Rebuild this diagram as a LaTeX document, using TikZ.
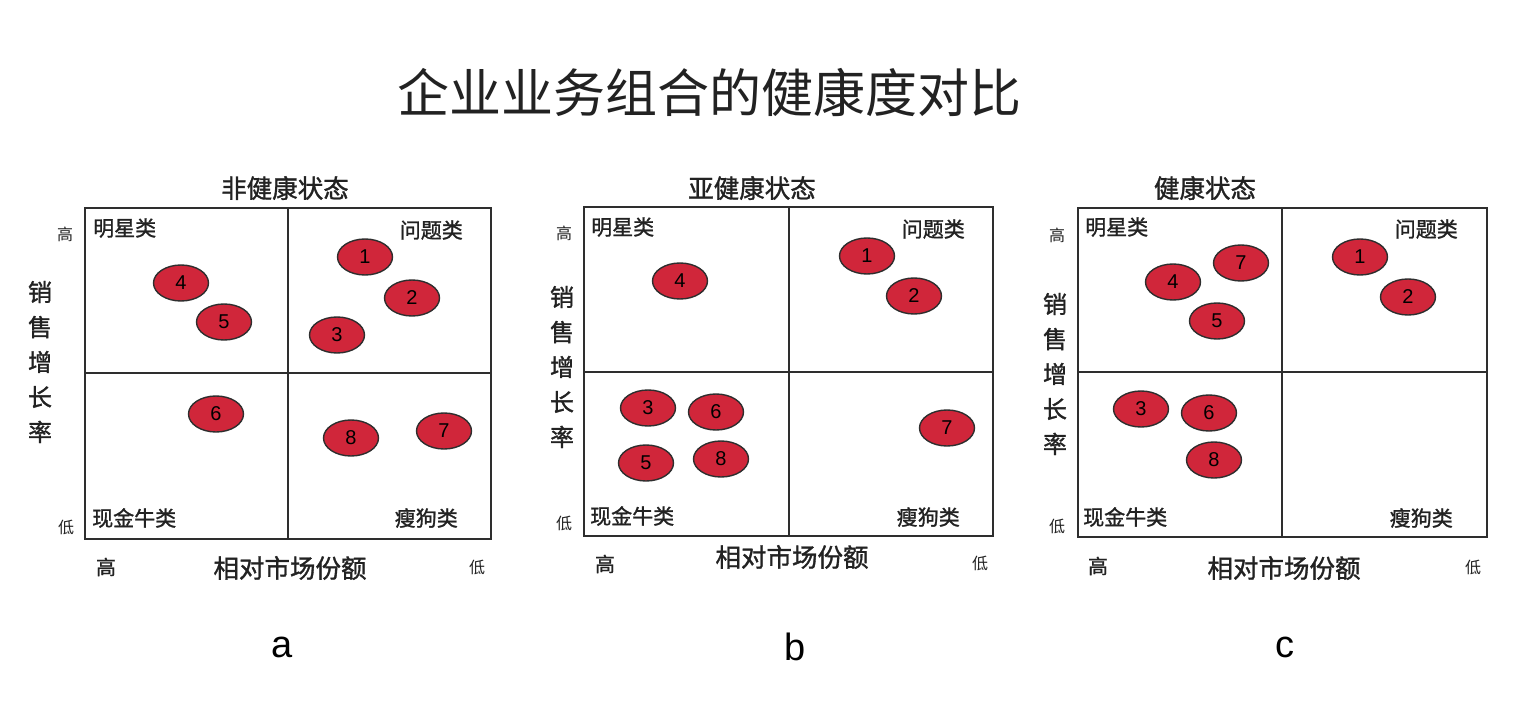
\documentclass[tikz,border=0pt]{standalone}
\usepackage{fontspec}
\setmainfont{Liberation Sans}
\newfontfamily\cjk{Noto Sans CJK SC}
\newfontfamily\cjkb[FakeBold=1.3]{Noto Sans CJK SC}
\usetikzlibrary{shapes.geometric}
\definecolor{bred}{HTML}{D0263A}
\definecolor{edgec}{HTML}{2E2E2E}
\definecolor{ink}{HTML}{222222}
\tikzset{
  frame/.style={draw=edgec, line width=1.8pt},
  blob/.style={ellipse, draw=edgec, line width=1.4pt, fill=bred, minimum width=55pt, minimum height=36pt, inner sep=0pt, text=black, font=\fontsize{20}{20}\selectfont},
  maintitle/.style={text=ink, font=\cjk\fontsize{52}{56}\selectfont},
  ptitle/.style={text=ink, font=\cjkb\fontsize{25.5}{28}\selectfont},
  qlab/.style={text=ink, font=\cjkb\fontsize{21}{24}\selectfont, inner sep=0pt},
  small/.style={text=ink, font=\cjk\fontsize{16}{18}\selectfont, inner sep=0pt},
  hsmall/.style={text=ink, font=\cjkb\fontsize{20}{22}\selectfont, inner sep=0pt},
  ylab/.style={text=ink, font=\cjkb\fontsize{24}{35}\selectfont, align=center, inner sep=0pt},
  xlab/.style={text=ink, font=\cjkb\fontsize{25.5}{28}\selectfont, inner sep=0pt},
  letter/.style={text=black, font=\fontsize{38}{40}\selectfont, inner sep=0pt}
}
\begin{document}
\begin{tikzpicture}[x=1pt,y=-1pt]
\useasboundingbox[fill=white] (0,0) rectangle (1524,714);
\node[maintitle] (title) at (709,92) {企业业务组合的健康度对比};

% ---------- panel a ----------
\draw[frame] (85,208) rectangle (491,539);
\draw[frame] (288,208) -- (288,539);
\draw[frame] (85,373) -- (491,373);
\node[ptitle] (ta) at (285,188) {非健康状态};
\node[qlab, anchor=west] (a-star) at (93,228) {明星类};
\node[qlab, anchor=east] (a-q) at (463,230) {问题类};
\node[qlab, anchor=west] (a-cow) at (92,518) {现金牛类};
\node[qlab, anchor=east] (a-dog) at (458,518) {瘦狗类};
\node[small] (a-yh) at (65,234) {高};
\node[small] (a-yl) at (66,527) {低};
\node[ylab] (a-y) at (40,362) {销\\售\\增\\长\\率};
\node[hsmall] (a-xh) at (106,567) {高};
\node[xlab] (a-x) at (290,568) {相对市场份额};
\node[small] (a-xl) at (477,567) {低};
\node[blob] (a1) at (365,257) {1};
\node[blob] (a2) at (412,298) {2};
\node[blob] (a3) at (337,335) {3};
\node[blob] (a4) at (181,283) {4};
\node[blob] (a5) at (224,322) {5};
\node[blob] (a6) at (216,414) {6};
\node[blob] (a7) at (444,431) {7};
\node[blob] (a8) at (351,438) {8};
\node[letter] (la) at (282,647) {a};

% ---------- panel b ----------
\draw[frame] (584,207) rectangle (993,536);
\draw[frame] (789,207) -- (789,536);
\draw[frame] (584,372) -- (993,372);
\node[ptitle] (tb) at (752,188) {亚健康状态};
\node[qlab, anchor=west] (b-star) at (591,227) {明星类};
\node[qlab, anchor=east] (b-q) at (965,229) {问题类};
\node[qlab, anchor=west] (b-cow) at (590,516) {现金牛类};
\node[qlab, anchor=east] (b-dog) at (960,517) {瘦狗类};
\node[small] (b-yh) at (564,233) {高};
\node[small] (b-yl) at (564,523) {低};
\node[ylab] (b-y) at (562,367) {销\\售\\增\\长\\率};
\node[hsmall] (b-xh) at (605,564) {高};
\node[xlab] (b-x) at (792,557) {相对市场份额};
\node[small] (b-xl) at (980,563) {低};
\node[blob] (b1) at (867,256) {1};
\node[blob] (b2) at (914,296) {2};
\node[blob] (b3) at (648,408) {3};
\node[blob] (b4) at (680,281) {4};
\node[blob] (b5) at (646,463) {5};
\node[blob] (b6) at (716,412) {6};
\node[blob] (b7) at (947,428) {7};
\node[blob] (b8) at (721,459) {8};
\node[letter] (lb) at (795,647) {b};

% ---------- panel c ----------
\draw[frame] (1078,208) rectangle (1487,537);
\draw[frame] (1282,208) -- (1282,537);
\draw[frame] (1078,372) -- (1487,372);
\node[ptitle] (tc) at (1205,188) {健康状态};
\node[qlab, anchor=west] (c-star) at (1085,227) {明星类};
\node[qlab, anchor=east] (c-q) at (1458,229) {问题类};
\node[qlab, anchor=west] (c-cow) at (1083,517) {现金牛类};
\node[qlab, anchor=east] (c-dog) at (1453,518) {瘦狗类};
\node[small] (c-yh) at (1057,235) {高};
\node[small] (c-yl) at (1057,526) {低};
\node[ylab] (c-y) at (1055,374) {销\\售\\增\\长\\率};
\node[hsmall] (c-xh) at (1098,566) {高};
\node[xlab] (c-x) at (1284,568) {相对市场份额};
\node[small] (c-xl) at (1473,567) {低};
\node[blob] (c1) at (1360,257) {1};
\node[blob] (c2) at (1408,297) {2};
\node[blob] (c3) at (1141,409) {3};
\node[blob] (c4) at (1173,282) {4};
\node[blob] (c5) at (1217,321) {5};
\node[blob] (c6) at (1209,413) {6};
\node[blob] (c7) at (1241,263) {7};
\node[blob] (c8) at (1214,460) {8};
\node[letter] (lc) at (1285,647) {c};
\end{tikzpicture}
\end{document}
